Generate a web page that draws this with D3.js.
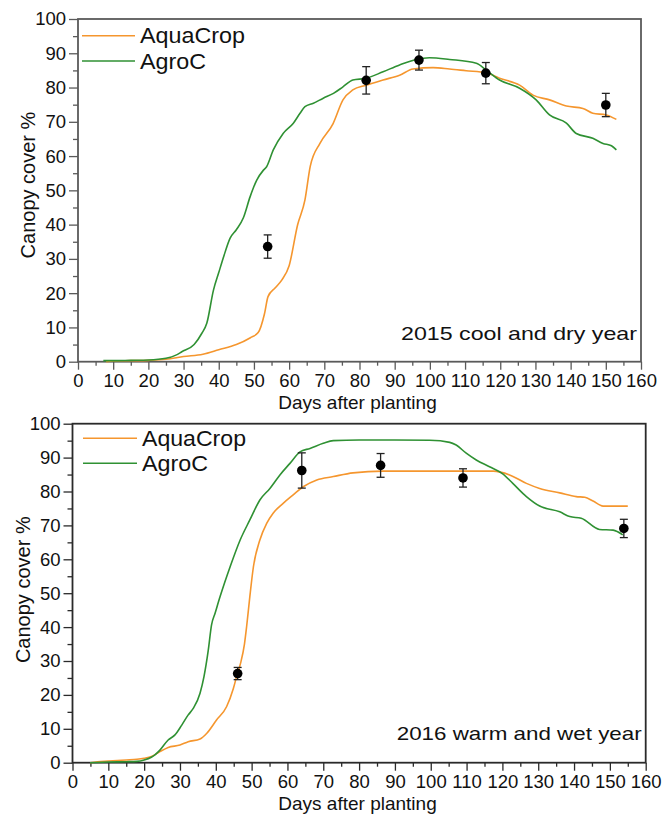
<!DOCTYPE html>
<html>
<head>
<meta charset="utf-8">
<script src="https://cdn.jsdelivr.net/npm/d3@7"></script>
<style>
  html, body { margin: 0; padding: 0; background: #fff; }
  svg { display: block; font-family: "Liberation Sans", Arial, sans-serif; }
</style>
</head>
<body>
<svg id="chart" width="666" height="816"></svg>
<script>
// Canopy cover simulations (AquaCrop, AgroC) and field observations, two seasons.
const xTicks = [0, 10, 20, 30, 40, 50, 60, 70, 80, 90, 100, 110, 120, 130, 140, 150, 160];
const yTicks = [0, 10, 20, 30, 40, 50, 60, 70, 80, 90, 100];
const seriesNames = ["AquaCrop", "AgroC"];
const seriesColors = ["#F5962E", "#2F9133"];

// 2015 cool and dry year
const aqua2015Days = [8, 10, 15, 20, 25, 30, 35.5, 40, 45, 49, 51.2, 53, 54, 56, 57.9, 60, 62.4, 64.5, 66, 68.8, 72.5, 75.3, 78.1, 81.9, 86.7, 91.4, 95.2, 100.9, 105.6, 110.3, 116, 119.8, 125.5, 129.3, 134, 138.8, 143.5, 146.3, 150.1, 153];
const aqua2015Cover = [0, 0.2, 0.3, 0.4, 0.7, 1.5, 2.2, 3.5, 5, 7, 8.5, 14, 19, 21.5, 23.8, 28, 39.9, 47.2, 57, 63.8, 69.5, 76.4, 79.3, 80.7, 82.2, 83.6, 85.4, 85.8, 85.4, 84.9, 84.3, 82.7, 80.7, 77.8, 76.4, 74.6, 73.9, 72.5, 72, 70.7];
const agro2015Days = [7.2, 10, 15, 20, 25, 28, 29.5, 33, 35.2, 36.6, 38.5, 40, 41.5, 43.2, 45, 47, 48.9, 50.8, 52.7, 53.6, 55.5, 58.3, 61.2, 63.1, 64.5, 66.9, 69.7, 72.6, 75.3, 78.1, 81.9, 86.7, 91.4, 96.1, 99.9, 105.6, 113.2, 116, 119.8, 125.5, 130.2, 134, 138.8, 141.6, 146.3, 149.2, 151.6, 153];
const agro2015Cover = [0.3, 0.3, 0.4, 0.5, 1, 2, 2.9, 5, 8.3, 11.2, 20.9, 26, 31, 36, 38.5, 42, 48.1, 53, 55.9, 56.9, 61.8, 66.6, 69.6, 72.5, 74.4, 75.4, 76.9, 78.3, 80.2, 82.2, 82.7, 84.6, 86.6, 88.2, 88.7, 88.2, 87.1, 85.1, 82.2, 79.8, 76.4, 72, 69.6, 66.6, 65.2, 63.7, 63, 61.8];
const obs2015Days = [53.9, 81.9, 96.9, 115.9, 150];
const obs2015Cover = [33.6, 82.1, 88, 84.2, 74.9];
const obs2015Err = [3.4, 4, 2.9, 3.1, 3.4];

// 2016 warm and wet year
const aqua2016Days = [4.9, 7, 10, 15, 18, 20, 22, 24, 26.7, 30, 32.3, 35.6, 37.5, 40.2, 43, 44.9, 45.8, 46.9, 48, 48.6, 49.5, 50.5, 52.3, 54.2, 56, 58.8, 61.6, 64.4, 68.2, 72.8, 78.3, 86.7, 100, 117.4, 122, 126.7, 130.4, 136, 140.6, 143, 145.3, 148.1, 155];
const aqua2016Cover = [0, 0.3, 0.5, 0.8, 1, 1.3, 1.8, 3, 4.5, 5.2, 6.2, 7, 8.7, 12.6, 16.5, 21.9, 25.4, 29.3, 35, 40.1, 49, 57.8, 65.7, 70.6, 73.6, 76.5, 79, 81.4, 83.4, 84.4, 85.5, 86, 86, 86, 84.9, 82.4, 80.9, 79.6, 78.5, 78.3, 77.2, 75.7, 75.7];
const agro2016Days = [4.9, 10, 15, 18, 20, 22, 23, 24.4, 26.7, 28.6, 30.5, 32.3, 33.7, 35.6, 36.7, 37.9, 38.8, 39.8, 41.2, 44, 46.8, 49.5, 52.3, 55.1, 57.9, 60.7, 63.5, 66.3, 70, 72.8, 80, 90, 99.7, 105.3, 107.1, 109.9, 112.7, 116.4, 120.1, 122.9, 126.7, 130.4, 136, 138.8, 142, 147.1, 150.9, 153.6];
const agro2016Cover = [0, 0.2, 0.3, 0.4, 0.8, 1.6, 2.3, 3.7, 6.7, 8.2, 11.1, 14.1, 16, 20.5, 25.4, 33.2, 40.6, 44.1, 49, 57.8, 65.7, 71.6, 77.5, 80.9, 84.9, 88.3, 91.7, 92.7, 94.2, 95, 95.2, 95.2, 95.1, 94.5, 93.7, 91.3, 89.3, 87.3, 85.2, 82.4, 78.5, 75.7, 74, 72.6, 72.1, 68.8, 68.6, 67.2];
const obs2016Days = [46.1, 64, 86, 109, 153.9];
const obs2016Cover = [26.3, 86.2, 87.7, 84, 69.1];
const obs2016Err = [1.8, 5.2, 3.5, 2.7, 2.7];

const panelLabels = ["2015 cool and dry year", "2016 warm and wet year"];
const xTitle = "Days after planting";
const yTitle = "Canopy cover %";

const svg = d3.select("#chart");

function zip(xs, ys) { return xs.map((x, i) => ({ x, y: ys[i] })); }

function drawPanel(cfg) {
  const { left, top, width, height, frameColor } = cfg;
  const g = svg.append("g").attr("transform", `translate(${left},${top})`);
  const x = d3.scaleLinear().domain([0, 160]).range([0, width]);
  const y = d3.scaleLinear().domain([0, 100]).range([height, 0]);

  // minor ticks
  const xMinor = d3.range(5, 160, 10);
  const yMinor = d3.range(5, 100, 10);
  g.append("g").attr("transform", `translate(0,${height})`)
    .call(d3.axisBottom(x).tickValues(xMinor).tickSize(4).tickFormat(""))
    .call(a => a.select(".domain").remove())
    .call(a => a.selectAll("line").attr("stroke", frameColor).attr("stroke-width", 1.3));
  g.append("g")
    .call(d3.axisLeft(y).tickValues(yMinor).tickSize(5).tickFormat(""))
    .call(a => a.select(".domain").remove())
    .call(a => a.selectAll("line").attr("stroke", frameColor).attr("stroke-width", 1.3));

  // major ticks with labels
  g.append("g").attr("transform", `translate(0,${height})`)
    .call(d3.axisBottom(x).tickValues(xTicks).tickSize(8).tickPadding(4).tickFormat(d3.format("d")))
    .call(a => a.select(".domain").remove())
    .call(a => a.selectAll("line").attr("stroke", frameColor).attr("stroke-width", 1.3))
    .call(a => a.selectAll("text").attr("fill", "#111").attr("font-size", 18.5)
      .attr("font-family", "'Liberation Sans', Arial, sans-serif"));
  g.append("g")
    .call(d3.axisLeft(y).tickValues(yTicks).tickSize(9).tickPadding(3).tickFormat(d3.format("d")))
    .call(a => a.select(".domain").remove())
    .call(a => a.selectAll("line").attr("stroke", frameColor).attr("stroke-width", 1.3))
    .call(a => a.selectAll("text").attr("fill", "#111").attr("font-size", 18.5)
      .attr("font-family", "'Liberation Sans', Arial, sans-serif"));

  // frame
  g.append("rect").attr("x", 0).attr("y", 0).attr("width", width).attr("height", height)
    .attr("fill", "none").attr("stroke", frameColor).attr("stroke-width", 1.8);

  const line = d3.line().x(d => x(d.x)).y(d => y(d.y)).curve(d3.curveMonotoneX);
  cfg.series.forEach((s, i) => {
    g.append("path").datum(s).attr("d", line)
      .attr("fill", "none").attr("stroke", seriesColors[i]).attr("stroke-width", 1.6);
  });

  // observations with error bars
  const obs = cfg.obsDays.map((d, i) => ({ x: d, y: cfg.obsCover[i], e: cfg.obsErr[i] }));
  const eb = g.append("g").attr("stroke", "#222").attr("stroke-width", 1.3);
  obs.forEach(o => {
    eb.append("line").attr("x1", x(o.x)).attr("x2", x(o.x)).attr("y1", y(o.y + o.e)).attr("y2", y(o.y - o.e));
    [o.y + o.e, o.y - o.e].forEach(v => {
      eb.append("line").attr("x1", x(o.x) - 4).attr("x2", x(o.x) + 4).attr("y1", y(v)).attr("y2", y(v));
    });
  });
  g.append("g").selectAll("circle").data(obs).join("circle")
    .attr("cx", d => x(d.x)).attr("cy", d => y(d.y)).attr("r", 4.8).attr("fill", "#000");

  // legend
  seriesNames.forEach((name, i) => {
    const ly = cfg.legendY[i];
    g.append("line").attr("x1", cfg.legendX0).attr("x2", cfg.legendX1)
      .attr("y1", ly).attr("y2", ly)
      .attr("stroke", seriesColors[i]).attr("stroke-width", 1.6);
    g.append("text").attr("x", cfg.legendX1 + 5).attr("y", ly + 7.5)
      .attr("font-size", 21.5).attr("fill", "#111")
      .attr("textLength", cfg.legendW[i]).attr("lengthAdjust", "spacingAndGlyphs")
      .text(name);
  });

  // panel annotation
  g.append("text").attr("x", width - 4).attr("y", cfg.noteY).attr("text-anchor", "end")
    .attr("font-size", 19).attr("fill", "#111")
    .attr("textLength", cfg.noteW).attr("lengthAdjust", "spacingAndGlyphs")
    .text(cfg.note);

  // axis titles
  g.append("text").attr("x", cfg.xTitleX).attr("y", cfg.xTitleY).attr("text-anchor", "middle")
    .attr("font-size", 19).attr("fill", "#111").text(xTitle);
  g.append("text").attr("transform", `translate(${cfg.yTitleX},${cfg.yTitleY}) rotate(-90)`)
    .attr("text-anchor", "middle").attr("font-size", 20).attr("fill", "#111").text(yTitle);
}

drawPanel({
  left: 78, top: 19, width: 563, height: 342.7, frameColor: "#5a5a5a",
  series: [zip(aqua2015Days, aqua2015Cover), zip(agro2015Days, agro2015Cover)],
  obsDays: obs2015Days, obsCover: obs2015Cover, obsErr: obs2015Err,
  legendX0: 4, legendX1: 57, legendY: [16.7, 42], legendW: [105, 66],
  note: panelLabels[0], noteY: 321, noteW: 236,
  xTitleX: 279.5, xTitleY: 390, yTitleX: -43, yTitleY: 166
});

drawPanel({
  left: 72.5, top: 423.7, width: 573.2, height: 339, frameColor: "#2a2a2a",
  series: [zip(aqua2016Days, aqua2016Cover), zip(agro2016Days, agro2016Cover)],
  obsDays: obs2016Days, obsCover: obs2016Cover, obsErr: obs2016Err,
  legendX0: 10.5, legendX1: 64.5, legendY: [14.6, 39.6], legendW: [104, 66],
  note: panelLabels[1], noteY: 316.3, noteW: 245,
  xTitleX: 285, xTitleY: 386, yTitleX: -42.5, yTitleY: 166
});
</script>
</body>
</html>
